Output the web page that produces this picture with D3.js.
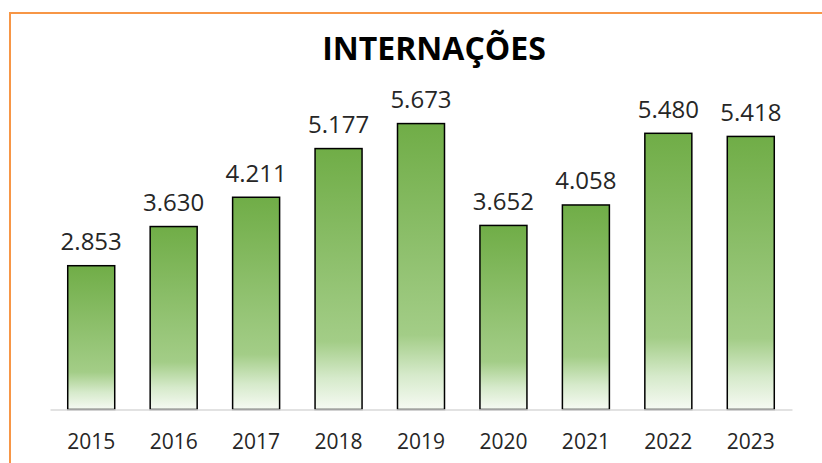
<!DOCTYPE html>
<html>
<head>
<meta charset="utf-8">
<script src="https://d3js.org/d3.v7.min.js"></script>
<style>
  body { margin: 0; background: #fff; }
</style>
</head>
<body>
<div id="chart"></div>
<script>
// Data
const years = ["2015", "2016", "2017", "2018", "2019", "2020", "2021", "2022", "2023"];
const internacoes = [2853, 3630, 4211, 5177, 5673, 3652, 4058, 5480, 5418];

const width = 822, height = 463;
const fmt = d3.format(",d");
const label = v => fmt(v).replace(/,/g, ".");

const svg = d3.select("#chart").append("svg")
  .attr("width", width)
  .attr("height", height);

// orange frame (the chart area border, cut by the crop)
svg.append("rect")
  .attr("x", 10).attr("y", 13)
  .attr("width", 900).attr("height", 600)
  .attr("fill", "none")
  .attr("stroke", "#F79646")
  .attr("stroke-width", 2);

// gradient used on every bar
const grad = svg.append("defs").append("linearGradient")
  .attr("id", "barGrad")
  .attr("x1", 0).attr("y1", 0).attr("x2", 0).attr("y2", 1);
grad.append("stop").attr("offset", "0%").attr("stop-color", "#70AD47");
grad.append("stop").attr("offset", "74%").attr("stop-color", "#A3CD87");
grad.append("stop").attr("offset", "88%").attr("stop-color", "#D6EACB");
grad.append("stop").attr("offset", "100%").attr("stop-color", "#F6FAF3");

const x = d3.scaleBand()
  .domain(years)
  .range([50, 792])
  .paddingInner(0.43)
  .paddingOuter(0.215);

const y = d3.scaleLinear()
  .domain([0, 6000])
  .range([409.5, 107.1]);

// title
svg.append("text")
  .attr("x", 434).attr("y", 60)
  .attr("text-anchor", "middle")
  .attr("font-family", "'Open Sans', sans-serif")
  .attr("font-weight", 700)
  .attr("font-size", 32)
  .attr("fill", "#000")
  .text("INTERNAÇÕES");

// bars
svg.append("g")
  .selectAll("rect")
  .data(internacoes)
  .join("rect")
    .attr("x", (d, i) => x(years[i]))
    .attr("y", d => y(d))
    .attr("width", x.bandwidth())
    .attr("height", d => y(0) - y(d))
    .attr("fill", "url(#barGrad)")
    .attr("stroke", "#000")
    .attr("stroke-width", 1.5);

// baseline
const axis = svg.append("g")
  .attr("transform", `translate(0,${y(0)})`)
  .call(d3.axisBottom(x).tickSize(0).tickPadding(24.5));
axis.select(".domain")
  .attr("stroke", "#D9D9D9")
  .attr("stroke-width", 1.5);
axis.selectAll("text")
  .attr("font-family", "'Open Sans', sans-serif")
  .attr("font-size", 21)
  .attr("fill", "#262626");

// value labels
svg.append("g")
  .selectAll("text")
  .data(internacoes)
  .join("text")
    .attr("x", (d, i) => x(years[i]) + x.bandwidth() / 2)
    .attr("y", d => y(d) - 15.5)
    .attr("text-anchor", "middle")
    .attr("font-family", "'Open Sans', sans-serif")
    .attr("font-size", 24)
    .attr("fill", "#262626")
    .text(d => label(d));
</script>
</body>
</html>
